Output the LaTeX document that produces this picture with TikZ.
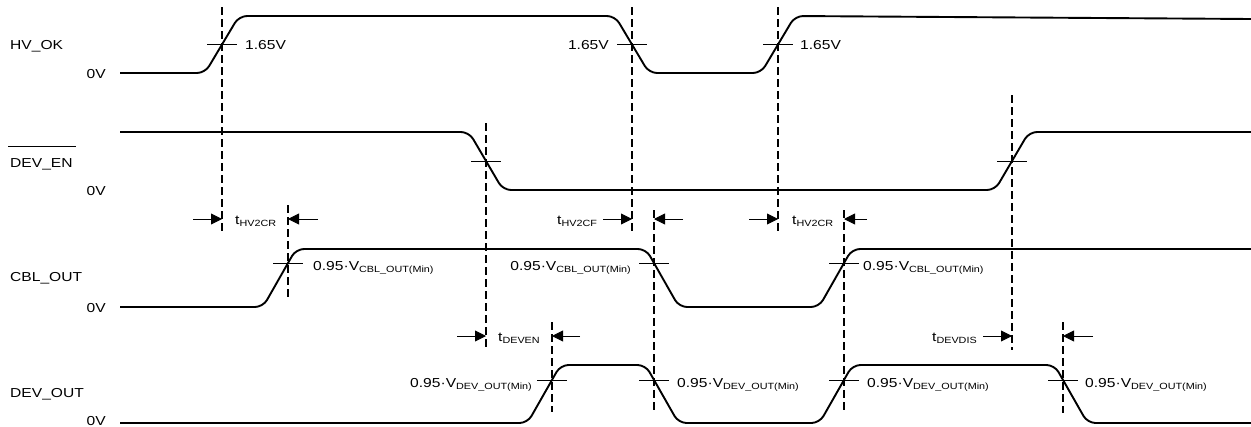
\documentclass[tikz,border=0pt]{standalone}
\usepackage{fontspec}
\setmainfont{Liberation Sans}[FakeStretch=1.2]
\usetikzlibrary{arrows.meta, calc}
\newcommand{\lowtxt}[1]{\raisebox{-2.5pt}{\fontsize{9}{10}\selectfont #1}}

\begin{document}
\begin{tikzpicture}[
    x=1pt, y=-1pt,
    sig/.style={line width=1.9pt, rounded corners=8pt},
    guide/.style={line width=2.4pt, dash pattern=on 8pt off 4pt},
    tick/.style={line width=0.9pt},
    dim/.style={line width=0.9pt, -{Triangle[length=11pt, width=11pt]}},
    txt/.style={inner sep=0pt, font=\fontsize{13}{15}\selectfont},
]
\useasboundingbox (0,0) rectangle (1251,426);

% Crossing points
\coordinate (hvA) at (222,44);
\coordinate (hvB) at (632,44);
\coordinate (hvC) at (778,44);
\coordinate (enA) at (486,161);
\coordinate (enB) at (1012,161);
\coordinate (cbA) at (288,263);
\coordinate (cbB) at (654,263);
\coordinate (cbC) at (844,263);
\coordinate (doA) at (552,380);
\coordinate (doB) at (654,380);
\coordinate (doC) at (844,380);
\coordinate (doD) at (1063,380);

% Signal names
\node[txt, anchor=base west] (nHv) at (10,49) {HV\_OK};
\node[txt, anchor=base west] (nEn) at (10,167) {DEV\_EN};
\draw[tick] ($(nEn.base west)+(-2,-21)$) -- ++(68,0);
\node[txt, anchor=base west] (nCb) at (10,281) {CBL\_OUT};
\node[txt, anchor=base west] (nDo) at (10,397) {DEV\_OUT};
\node[txt, anchor=base east] (zHv) at (106,78) {0V};
\node[txt, anchor=base east] (zEn) at (106,195) {0V};
\node[txt, anchor=base east] (zCb) at (106,312) {0V};
\node[txt, anchor=base east] (zDo) at (106,425) {0V};

% Waveforms
\draw[sig] (120,73) -- (205,73) -- (239,16) -- (615,16) -- (649,73) -- (761,73) -- (795,16) -- (1251,19);
\draw[sig] (120,132) -- (469,132) -- (503,190) -- (995,190) -- (1029,132) -- (1251,132);
\draw[sig] (120,307) -- (263,307) -- (296,249) -- (646,249) -- (679,307) -- (819,307) -- (852,249) -- (1251,249);
\draw[sig] (120,423) -- (527.5,423) -- (560.5,365) -- (645.5,365) -- (678.5,423) -- (819.5,423) -- (852.5,365) -- (1054.5,365) -- (1087.5,423) -- (1251,423);

% Threshold ticks
\foreach \p in {hvA,hvB,hvC,enA,enB,cbA,cbB,cbC,doA,doB,doC,doD}
    \draw[tick] ($(\p)+(-15,0)$) -- ($(\p)+(15,0)$);

% Guide lines
\draw[guide] (222,7) -- (222,233);
\draw[guide] (632,7) -- (632,233);
\draw[guide] (778,7) -- (778,233);
\draw[guide] (486,123) -- (486,350);
\draw[guide] (1012,95) -- (1012,350);
\draw[guide] (288,205) -- (288,297);
\draw[guide] (654,210) -- (654,410);
\draw[guide] (844,210) -- (844,410);
\draw[guide] (552,322) -- (552,412);
\draw[guide] (1063,322) -- (1063,413);

% Threshold labels
\node[txt, anchor=base west] (vHvA) at (245,49) {1.65V};
\node[txt, anchor=base east] (vHvB) at (609,49) {1.65V};
\node[txt, anchor=base west] (vHvC) at (800,49) {1.65V};
\node[txt, anchor=base west] (vCbA) at (313,270) {0.95·V\lowtxt{CBL\_OUT(Min)}};
\node[txt, anchor=base east] (vCbB) at (631,270) {0.95·V\lowtxt{CBL\_OUT(Min)}};
\node[txt, anchor=base west] (vCbC) at (863,270) {0.95·V\lowtxt{CBL\_OUT(Min)}};
\node[txt, anchor=base east] (vDoA) at (532,387) {0.95·V\lowtxt{DEV\_OUT(Min)}};
\node[txt, anchor=base west] (vDoB) at (677,387) {0.95·V\lowtxt{DEV\_OUT(Min)}};
\node[txt, anchor=base west] (vDoC) at (867,387) {0.95·V\lowtxt{DEV\_OUT(Min)}};
\node[txt, anchor=base west] (vDoD) at (1085,387) {0.95·V\lowtxt{DEV\_OUT(Min)}};

% Timing arrows
\coordinate (tA) at (222,219);
\coordinate (tB) at (288,219);
\coordinate (tC) at (632,219);
\coordinate (tD) at (654,219);
\coordinate (tE) at (778,219);
\coordinate (tF) at (844,219);
\coordinate (tG) at (486,336);
\coordinate (tH) at (552,336);
\coordinate (tI) at (1012,336);
\coordinate (tJ) at (1063,336);
\draw[dim] ($(tA)+(-29,0)$) -- (tA);
\draw[dim] ($(tB)+(30,0)$) -- (tB);
\draw[dim] ($(tC)+(-29,0)$) -- (tC);
\draw[dim] ($(tD)+(29,0)$) -- (tD);
\draw[dim] ($(tE)+(-29,0)$) -- (tE);
\draw[dim] ($(tF)+(23,0)$) -- (tF);
\draw[dim] ($(tG)+(-29,0)$) -- (tG);
\draw[dim] ($(tH)+(28,0)$) -- (tH);
\draw[dim] ($(tI)+(-29,0)$) -- (tI);
\draw[dim] ($(tJ)+(30,0)$) -- (tJ);
\node[txt, anchor=base west] (lHvA) at (235,224) {t\lowtxt{HV2CR}};
\node[txt, anchor=base west] (lHvB) at (557,224) {t\lowtxt{HV2CF}};
\node[txt, anchor=base west] (lHvC) at (792,224) {t\lowtxt{HV2CR}};
\node[txt, anchor=base west] (lEn) at (498,341) {t\lowtxt{DEVEN}};
\node[txt, anchor=base west] (lDis) at (932,341) {t\lowtxt{DEVDIS}};

\end{tikzpicture}
\end{document}
